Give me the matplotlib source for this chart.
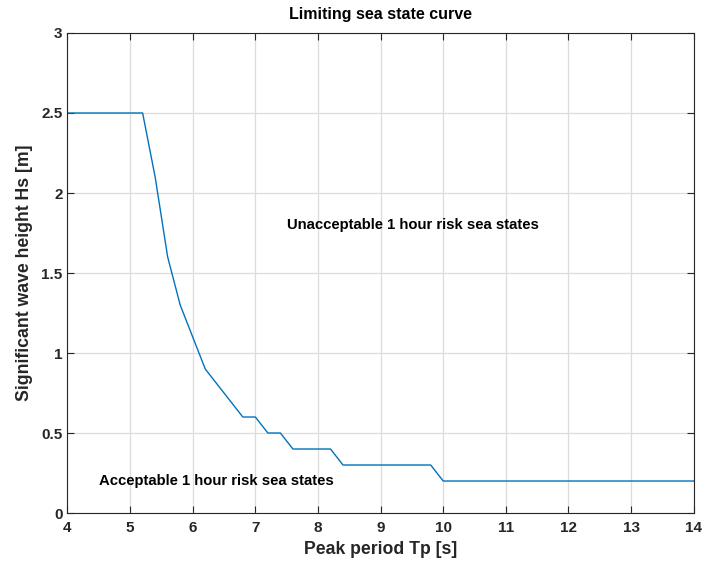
import matplotlib
matplotlib.use("Agg")
import matplotlib.pyplot as plt

# Limiting sea state: peak period Tp [s] vs. significant wave height Hs [m]
tp = [4.0, 5.2, 5.4, 5.6, 5.8, 6.2, 6.8, 7.0, 7.2, 7.4, 7.6, 8.2, 8.4, 9.8, 10.0, 14.0]
hs = [2.5, 2.5, 2.1, 1.6, 1.3, 0.9, 0.6, 0.6, 0.5, 0.5, 0.4, 0.4, 0.3, 0.3, 0.2, 0.2]

x_ticks = list(range(4, 15))
y_ticks = [0, 0.5, 1, 1.5, 2, 2.5, 3]
y_tick_labels = ["0", "0.5", "1", "1.5", "2", "2.5", "3"]

plt.rcParams["font.family"] = ["Liberation Sans", "DejaVu Sans"]
plt.rcParams["font.weight"] = "bold"
plt.rcParams["axes.labelweight"] = "bold"

fig = plt.figure(figsize=(7.05, 5.64), dpi=100)
ax = fig.add_axes([0.0957, 0.0904, 0.8883, 0.8511])

ax.plot(tp, hs, color="#0072BD", lw=1.0)

ax.set_xlim(4, 14)
ax.set_ylim(0, 3)
ax.set_xticks(x_ticks)
ax.set_yticks(y_ticks)
ax.set_yticklabels(y_tick_labels)
ax.grid(True, color="#dcdcdc", lw=0.9)
ax.set_axisbelow(True)

ax.tick_params(direction="in", top=True, right=True, length=5,
               labelsize=11, colors="#262626", width=0.8)
ax.tick_params(axis="x", pad=6)
for s in ax.spines.values():
    s.set_color("#262626")
    s.set_linewidth(0.8)

ax.set_title("Limiting sea state curve", fontsize=11.5, fontweight="bold", pad=10)
ax.set_xlabel("Peak period Tp [s]", fontsize=12.7, color="#262626", labelpad=4)
ax.set_ylabel("Significant wave height Hs [m]", fontsize=12.7, color="#262626", labelpad=6)

ax.text(7.5, 1.8, "Unacceptable 1 hour risk sea states", fontsize=10.7, va="center")
ax.text(4.5, 0.2, "Acceptable 1 hour risk sea states", fontsize=10.7, va="center")

fig.savefig("out.png", dpi=100)
